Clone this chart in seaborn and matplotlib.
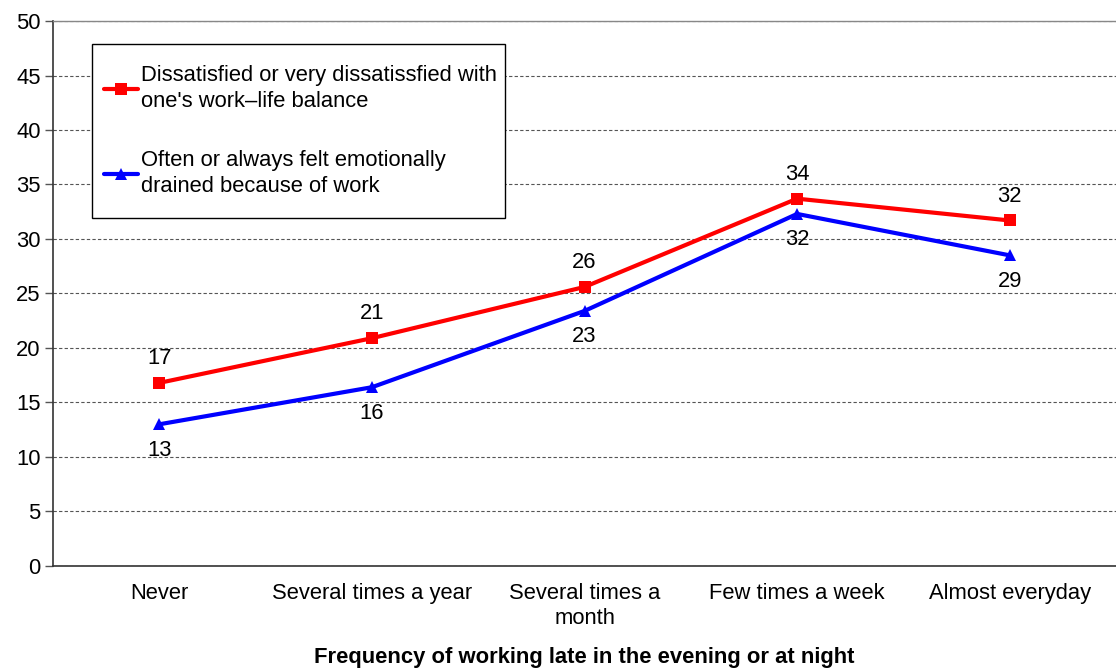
import pandas as pd
import matplotlib.pyplot as plt
from matplotlib.patches import Rectangle
import seaborn as sns

# categories and values
categories = ['Never', 'Several times a year', 'Several times a\nmonth',
              'Few times a week', 'Almost everyday']
dissatisfied = [16.8, 20.9, 25.6, 33.7, 31.7]
drained = [13.0, 16.4, 23.4, 32.3, 28.5]
dissatisfied_labels = ['17', '21', '26', '34', '32']
drained_labels = ['13', '16', '23', '32', '29']

series_names = ["Dissatisfied or very dissatissfied with\none's work\u2013life balance",
                "Often or always felt emotionally\ndrained because of work"]

df = pd.DataFrame({
    'category': categories * 2,
    'value': dissatisfied + drained,
    'series': [series_names[0]] * 5 + [series_names[1]] * 5,
})

sns.set_style('white')
plt.rcParams['font.family'] = ['Liberation Sans', 'DejaVu Sans']
plt.rcParams['text.color'] = 'black'
plt.rcParams['xtick.color'] = 'black'
plt.rcParams['ytick.color'] = 'black'
plt.rcParams['axes.labelcolor'] = 'black'
fs = 15.8

fig = plt.figure(figsize=(11.16, 6.71), dpi=100)
ax = fig.add_axes([0.0475, 0.1565, 0.9525, 0.8122])

sns.lineplot(data=df, x='category', y='value', hue='series', style='series',
             palette=['#ff0000', '#0000ff'], markers=['s', '^'], dashes=False,
             linewidth=3, markersize=9, markeredgewidth=0, sort=False, ax=ax)

# data labels: red above the points, blue below
for i, (v, t) in enumerate(zip(dissatisfied, dissatisfied_labels)):
    ax.annotate(t, (i, v), xytext=(0, 10), textcoords='offset points',
                ha='center', va='bottom', fontsize=fs)
for i, (v, t) in enumerate(zip(drained, drained_labels)):
    ax.annotate(t, (i, v), xytext=(0, -11), textcoords='offset points',
                ha='center', va='top', fontsize=fs)

ax.set_xlim(-0.5, 4.5)
ax.set_ylim(0, 50)
ax.set_yticks(range(0, 51, 5))
ax.set_yticklabels([str(v) for v in range(0, 51, 5)], fontsize=fs)
ax.set_xticks(range(5))
ax.set_xticklabels(categories, fontsize=fs, linespacing=1.25)
ax.set_xticks([-0.5, 0.5, 1.5, 2.5, 3.5, 4.5], minor=True)
ax.tick_params(axis='x', which='major', length=0, pad=12)
ax.tick_params(axis='x', which='minor', length=6, width=1, color='#555555', direction='out')
ax.tick_params(axis='y', length=6, width=1, color='#555555', direction='out', left=True, pad=3)

ax.yaxis.grid(True, linestyle=(0, (3, 2)), color='#555555', linewidth=0.8)
ax.set_axisbelow(True)

for side in ['left', 'bottom']:
    ax.spines[side].set_color('#333333')
    ax.spines[side].set_linewidth(1.2)
ax.spines['top'].set_color('#888888')
ax.spines['top'].set_linewidth(1)
ax.spines['right'].set_visible(False)

ax.set_xlabel('Frequency of working late in the evening or at night',
              fontsize=fs, fontweight='bold', va='center')
ax.xaxis.set_label_coords(0.5, -0.167)
ax.set_ylabel('')

# legend box drawn separately so its padding matches the original
ax.add_patch(Rectangle((0.0367, 0.6385), 0.3885, 0.3193, transform=ax.transAxes,
                       facecolor='white', edgecolor='black', linewidth=1, zorder=4))
handles, labels = ax.get_legend_handles_labels()
leg = ax.legend(handles, labels, loc='upper left', bbox_to_anchor=(0.048, 0.919),
                fontsize=fs, frameon=False, handlelength=1.55, handletextpad=0.15,
                labelspacing=1.75, borderpad=0, borderaxespad=0)
leg.set_zorder(5)
for t in leg.get_texts():
    t.set_linespacing(1.3)

fig.savefig('out.png', dpi=100)
